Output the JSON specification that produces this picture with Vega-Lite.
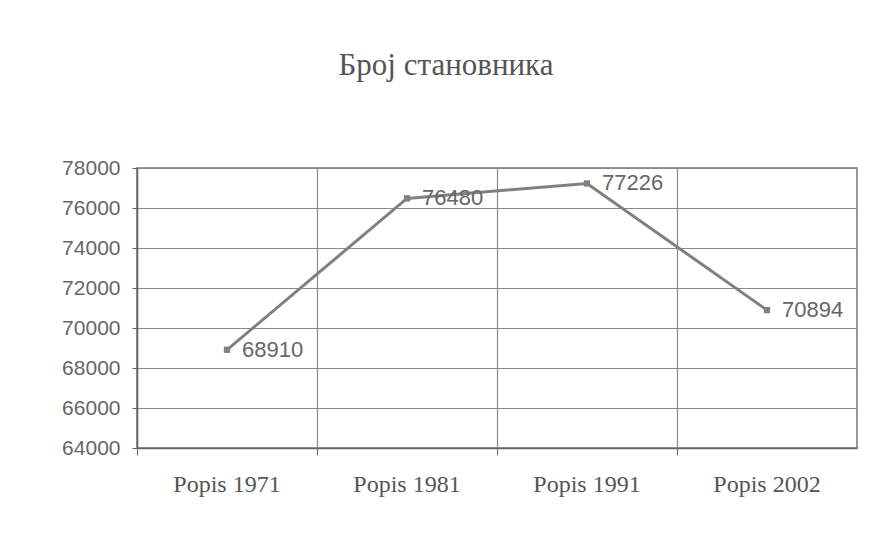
{
  "$schema": "https://vega.github.io/schema/vega-lite/v6.json",
  "width": 720,
  "height": 280,
  "autosize": {"type": "none"},
  "padding": {"left": 137, "top": 168, "right": 32, "bottom": 105},
  "background": "white",
  "title": {
    "text": "Број становника",
    "font": "Liberation Serif",
    "fontSize": 31,
    "fontWeight": "normal",
    "color": "#555555",
    "anchor": "middle",
    "dx": -51,
    "offset": 75
  },
  "data": {
    "values": [
      {"popis": "Popis 1971", "stanovnika": 68910},
      {"popis": "Popis 1981", "stanovnika": 76480},
      {"popis": "Popis 1991", "stanovnika": 77226},
      {"popis": "Popis 2002", "stanovnika": 70894}
    ]
  },
  "encoding": {
    "x": {
      "field": "popis",
      "type": "nominal",
      "sort": null,
      "scale": {"type": "band", "paddingInner": 0, "paddingOuter": 0},
      "axis": {
        "title": null,
        "labelAngle": 0,
        "bandPosition": 0,
        "labelOffset": 0,
        "grid": true,
        "gridColor": "#8a8a8a",
        "gridWidth": 1.2,
        "tickColor": "#666666",
        "tickSize": 7,
        "domainColor": "#666666",
        "domainWidth": 1.5,
        "labelFont": "Liberation Serif",
        "labelFontSize": 24,
        "labelColor": "#555555",
        "labelPadding": 17
      }
    },
    "y": {
      "field": "stanovnika",
      "type": "quantitative",
      "scale": {"domain": [64000, 78000], "nice": false, "zero": false},
      "axis": {
        "title": null,
        "values": [64000, 66000, 68000, 70000, 72000, 74000, 76000, 78000],
        "format": "d",
        "grid": true,
        "gridColor": "#8a8a8a",
        "gridWidth": 1.2,
        "tickSize": 5,
        "tickColor": "#666666",
        "domainColor": "#666666",
        "domainWidth": 1.5,
        "labelFont": "Liberation Sans",
        "labelFontSize": 21,
        "labelColor": "#666666",
        "labelPadding": 12
      }
    }
  },
  "layer": [
    {"mark": {"type": "line", "color": "#808080", "strokeWidth": 3}},
    {"mark": {"type": "point", "shape": "square", "filled": true, "color": "#808080", "size": 40, "opacity": 1}},
    {
      "mark": {"type": "text", "align": "left", "baseline": "middle", "dx": 15, "font": "Liberation Sans", "fontSize": 22, "color": "#666666"},
      "encoding": {"text": {"field": "stanovnika", "type": "quantitative", "format": "d"}}
    }
  ],
  "config": {"view": {"stroke": "#777777", "strokeWidth": 1.5}}
}
